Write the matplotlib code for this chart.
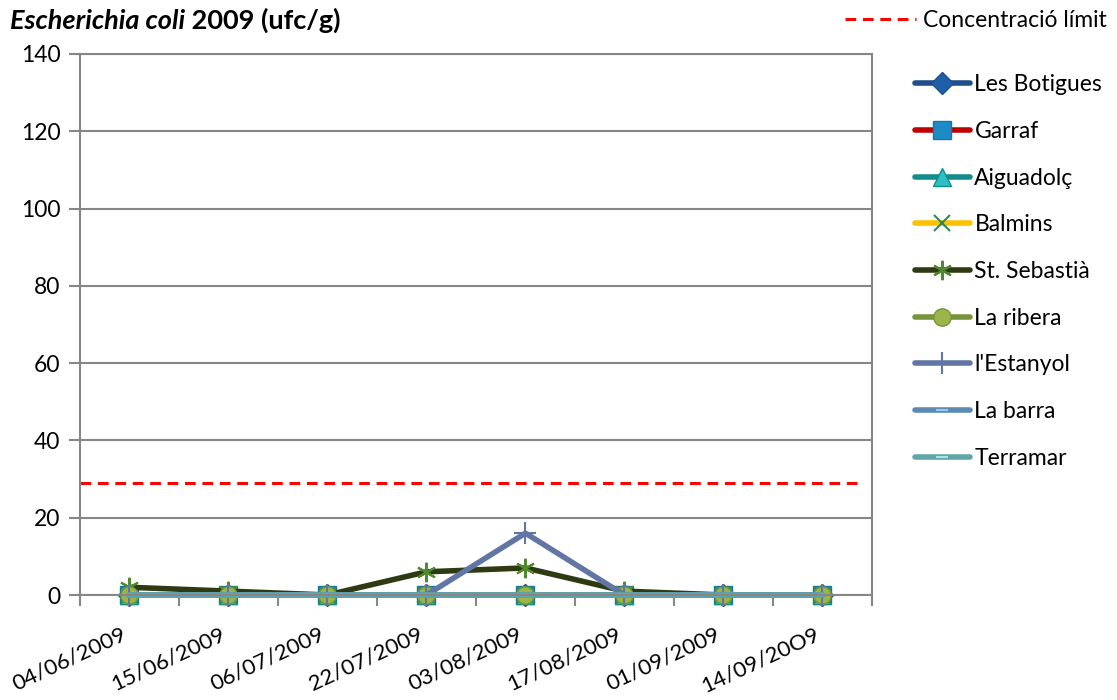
import matplotlib.pyplot as plt
from matplotlib.lines import Line2D

plt.rcParams['font.family'] = ['Lato', 'DejaVu Sans']

dates = ["04/06/2009", "15/06/2009", "06/07/2009", "22/07/2009",
         "03/08/2009", "17/08/2009", "01/09/2009", "14/09/20O9"]

les_botigues = [0, 0, 0, 0, 0, 0, 0, 0]
garraf = [0, 0, 0, 0, 0, 0, 0, 0]
aiguadolc = [0, 0, 0, 0, 0, 0, 0, 0]
balmins = [0, 0, 0, 0, 0, 0, 0, 0]
st_sebastia = [2, 1, 0, 6, 7, 1, 0, 0]
la_ribera = [0, 0, 0, 0, 0, 0, 0, 0]
estanyol = [0, 0, 0, 0, 16, 0, 0, 0]
la_barra = [0, 0, 0, 0, 0, 0, 0, 0]
terramar = [0, 0, 0, 0, 0, 0, 0, 0]

limit = 29

series = [
    ("Les Botigues", les_botigues, dict(color="#1f4e8c", marker="D", ms=11, mfc="#1f5fa8", mec="#1f4e8c")),
    ("Garraf", garraf, dict(color="#c00000", marker="s", ms=13, mfc="#1f8ac8", mec="#16789c")),
    ("Aiguadolç", aiguadolc, dict(color="#138c8c", marker="^", ms=13, mfc="#2ec0c4", mec="#138c8c")),
    ("Balmins", balmins, dict(color="#ffc000", marker="x", ms=11, mfc="none", mec="#2e8b57", mew=1.5)),
    ("St. Sebastià", st_sebastia, dict(color="#2d3a12", marker=(6, 2, 0), ms=14, mec="#4f8a2c", mew=1.5)),
    ("La ribera", la_ribera, dict(color="#77933c", marker="o", ms=12.5, mfc="#9bb548", mec="#77933c")),
    ("l'Estanyol", estanyol, dict(color="#6276a6", marker="+", ms=16, mec="#6276a6", mew=1.5)),
    ("La barra", la_barra, dict(color="#5b8ab4", marker="_", ms=8, mec="#9cc8e8", mew=1.5)),
    ("Terramar", terramar, dict(color="#5fa6a9", marker="_", ms=8, mec="#a8e2ee", mew=1.5)),
]

fig = plt.figure(figsize=(11.17, 7), dpi=100)
ax = fig.add_axes([0.0716, 0.15, 0.709, 0.773])

x = list(range(len(dates)))
handles = []
for name, vals, style in series:
    h, = ax.plot(x, vals, lw=4, label=name, solid_capstyle="round", clip_on=False, **style)
    handles.append(h)

dash = (0, (3.5, 2.2))
ax.plot([-0.5, 7.35], [limit, limit], color="#ff0000", lw=2.2, ls=dash, zorder=1)

ax.set_xlim(-0.5, 7.5)
ax.set_ylim(0, 140)
ax.set_yticks(range(0, 141, 20))
ax.set_xticks(x)
ax.set_xticklabels(dates, rotation=25, ha="right", va="top", fontsize=16)
ax.set_xticks([i - 0.5 for i in range(len(dates) + 1)], minor=True)
ax.tick_params(axis="x", which="major", length=0, pad=21)
ax.tick_params(axis="x", which="minor", length=8, color="#868686", width=1.5, direction="out")
ax.tick_params(axis="y", length=8, color="#868686", width=1.5, labelsize=16.5, pad=6)
ax.grid(axis="y", color="#868686", lw=1.5, zorder=0)
ax.set_axisbelow(True)
for side in ax.spines.values():
    side.set_color("#868686")
    side.set_linewidth(1.5)

ax.legend(handles=handles, loc="upper left", bbox_to_anchor=(0.819, 0.894),
          bbox_transform=fig.transFigure, frameon=False, fontsize=16.5,
          handlelength=2.4, handletextpad=0.2, labelspacing=1.12,
          borderpad=0, borderaxespad=0)

limit_handle = Line2D([], [], color="#ff0000", lw=2.2, ls=dash)
fig.legend(handles=[limit_handle], labels=["Concentració límit"], loc="upper right",
           bbox_to_anchor=(0.991, 0.986), frameon=False, fontsize=16.5,
           handlelength=3.1, handletextpad=0.3, borderpad=0, borderaxespad=0)

t1 = fig.text(0.009, 0.959, "Escherichia coli", fontsize=19.5, fontweight="bold",
              fontstyle="italic", va="baseline")
ax.annotate(" 2009 (ufc/g)", xy=(1, 0), xycoords=t1, va="bottom",
            fontsize=19.5, fontweight="bold", annotation_clip=False)

fig.savefig("out.png", dpi=100)
